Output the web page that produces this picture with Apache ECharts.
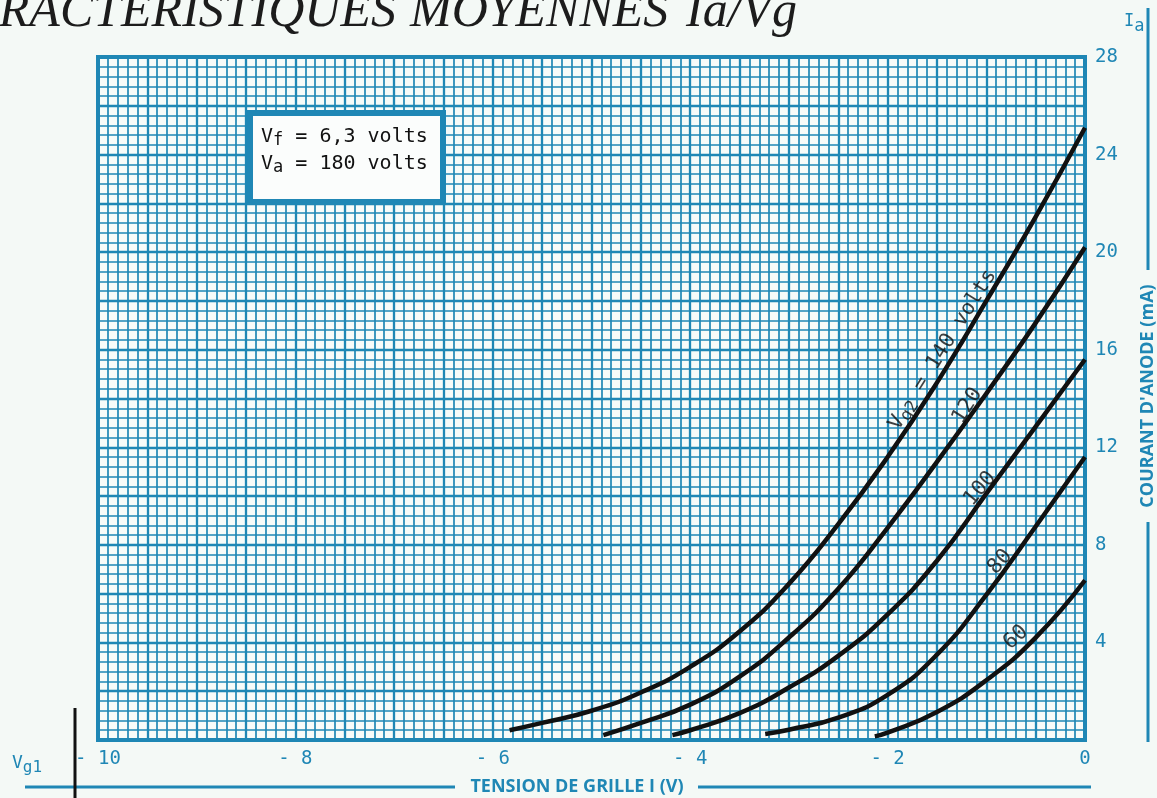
<!DOCTYPE html>
<html>
<head>
<meta charset="utf-8">
<script src="https://cdn.jsdelivr.net/npm/echarts@6/dist/echarts.min.js"></script>
<style>
html, body { margin: 0; padding: 0; background: #f4f9f6; }
#main { width: 1157px; height: 798px; }
</style>
</head>
<body>
<div id="main"></div>
<script>
// courbes Ia = f(Vg1) pour chaque tension d'ecran Vg2
var vg2List = ['140', '120', '100', '80', '60'];
var curve140 = [[-5.83, 0.4], [-5.5, 0.7], [-5.0, 1.2], [-4.5, 1.95], [-4.0, 3.0], [-3.5, 4.45], [-3.0, 6.4], [-2.5, 8.85], [-2.0, 11.6], [-1.5, 14.65], [-1.0, 18.0], [-0.5, 21.45], [0, 25.1]];
var curve120 = [[-4.88, 0.2], [-4.5, 0.7], [-4.0, 1.45], [-3.5, 2.6], [-3.0, 4.2], [-2.5, 6.2], [-2.0, 8.7], [-1.5, 11.4], [-1.0, 14.2], [-0.5, 17.1], [0, 20.2]];
var curve100 = [[-4.18, 0.2], [-4.0, 0.4], [-3.5, 1.1], [-3.0, 2.15], [-2.5, 3.45], [-2.0, 5.15], [-1.5, 7.35], [-1.0, 10.1], [-0.5, 12.85], [0, 15.6]];
var curve80 = [[-3.24, 0.25], [-3.0, 0.42], [-2.5, 0.92], [-2.0, 1.85], [-1.5, 3.5], [-1.0, 5.95], [-0.5, 8.75], [0, 11.6]];
var curve60 = [[-2.13, 0.15], [-2.0, 0.3], [-1.5, 1.15], [-1.0, 2.45], [-0.5, 4.2], [0, 6.55]];
var curves = [curve140, curve120, curve100, curve80, curve60];

// ancrage des etiquettes (Vg1, Ia) et inclinaison
var labelAnchors = [[-1.44, 16.0], [-1.19, 13.7], [-1.06, 10.3], [-0.86, 7.3], [-0.7, 4.2]];
var labelAngles = [58, 58, 50, 48, 42];

var xTicks = [-10, -8, -6, -4, -2, 0];
var yTicks = [4, 8, 12, 16, 20, 24, 28];

var blue = '#1f87b5';
var mono = '"DejaVu Sans Mono", monospace';
var titleFont = 'italic 50px "Liberation Serif", serif';

var myChart = echarts.init(document.getElementById('main'));

var series = [];
for (var i = 0; i < curves.length; i++) {
	series.push({
		name : vg2List[i],
		type : 'line',
		data : curves[i],
		smooth : 0.5,
		symbol : 'none',
		lineStyle : { color : '#111', width : 4.5 },
		z : 5
	});
}

var labelData = [];
for (var i = 0; i < labelAnchors.length; i++) {
	var txt = vg2List[i];
	if (i === 0) {
		txt = '{v|V}{s|g2}{v| = 140 volts}';
	} else {
		txt = '{v|' + txt + '}';
	}
	labelData.push({
		value : labelAnchors[i],
		label : { rotate : labelAngles[i], formatter : txt }
	});
}
series.push({
	type : 'scatter',
	data : labelData,
	symbolSize : 1,
	itemStyle : { color : 'transparent' },
	silent : true,
	z : 6,
	label : {
		show : true,
		position : 'inside',
		color : '#111',
		rich : {
			v : { fontFamily : mono, fontSize : 21, color : '#111' },
			s : { fontFamily : mono, fontSize : 17, color : '#111', padding : [ 9, 0, 0, 0 ] }
		}
	}
});

var option = {
	backgroundColor : '#f4f9f6',
	animation : false,
	grid : {
		left : 98,
		right : 72,
		top : 57,
		bottom : 58,
		show : true,
		backgroundColor : '#f7fbf9',
		borderColor : blue,
		borderWidth : 4
	},
	xAxis : {
		type : 'value',
		min : -10,
		max : 0,
		interval : 0.5,
		axisLine : { show : false },
		axisTick : { show : false },
		axisLabel : {
			margin : 10,
			color : blue,
			fontFamily : mono,
			fontSize : 19,
			formatter : function(v) {
				if (xTicks.indexOf(v) < 0) return '';
				return v < 0 ? '- ' + Math.abs(v) : '0';
			}
		},
		splitLine : { show : true, lineStyle : { color : blue, width : 2.3 } },
		minorTick : { show : false, splitNumber : 5 },
		minorSplitLine : { show : true, lineStyle : { color : blue, width : 1.7 } }
	},
	yAxis : {
		type : 'value',
		position : 'right',
		min : 0,
		max : 28,
		interval : 2,
		axisLine : { show : false },
		axisTick : { show : false },
		axisLabel : {
			margin : 10,
			color : blue,
			fontFamily : mono,
			fontSize : 19,
			formatter : function(v) {
				return yTicks.indexOf(v) < 0 ? '' : String(v);
			}
		},
		splitLine : { show : true, lineStyle : { color : blue, width : 2.3 } },
		minorTick : { show : false, splitNumber : 5 },
		minorSplitLine : { show : true, lineStyle : { color : blue, width : 1.7 } }
	},
	graphic : [
		// titre coupe en haut de la page
		{
			type : 'text',
			x : 396,
			y : 38,
			style : { text : 'CARACTERISTIQUES', font : titleFont, fill : '#1c1c1c', textAlign : 'right', textVerticalAlign : 'bottom' },
			z : 10
		},
		{
			type : 'text',
			x : 410,
			y : 38,
			style : { text : 'MOYENNES', font : titleFont, fill : '#1c1c1c', textAlign : 'left', textVerticalAlign : 'bottom' },
			z : 10
		},
		{
			type : 'text',
			x : 686,
			y : 38,
			style : { text : 'Ia/Vg', font : titleFont, fill : '#1c1c1c', textAlign : 'left', textVerticalAlign : 'bottom' },
			z : 10
		},
		{
			type : 'rect',
			shape : { x : 250, y : 113, width : 193, height : 89 },
			style : { fill : '#fbfdfc', stroke : blue, lineWidth : 6 },
			z : 10
		},
		{
			type : 'text',
			x : 261,
			y : 123,
			style : {
				text : '{v|V}{s|f}{v| = 6,3 volts}\n{v|V}{s|a}{v| = 180 volts}',
				rich : {
					v : { fontFamily : mono, fontSize : 20, fill : '#111', lineHeight : 27 },
					s : { fontFamily : mono, fontSize : 17, fill : '#111', padding : [ 9, 0, 0, 0 ], lineHeight : 27 }
				}
			},
			z : 11
		},
		{
			type : 'text',
			x : 1124,
			y : 8,
			style : {
				text : '{v|I}{s|a}',
				rich : {
					v : { fontFamily : mono, fontSize : 17, fill : blue },
					s : { fontFamily : mono, fontSize : 17, fill : blue, padding : [ 10, 0, 0, 0 ] }
				}
			}
		},
		{
			type : 'line',
			shape : { x1 : 1148, y1 : 8, x2 : 1148, y2 : 270 },
			style : { stroke : blue, lineWidth : 3 }
		},
		{
			type : 'text',
			x : 1148,
			y : 396,
			rotation : Math.PI / 2,
			style : {
				text : 'COURANT D\'ANODE (mA)',
				font : 'bold 18px "Open Sans", sans-serif',
				fill : blue,
				textAlign : 'center',
				textVerticalAlign : 'middle'
			}
		},
		{
			type : 'line',
			shape : { x1 : 1148, y1 : 522, x2 : 1148, y2 : 742 },
			style : { stroke : blue, lineWidth : 3 }
		},
		{
			type : 'line',
			shape : { x1 : 25, y1 : 787, x2 : 455, y2 : 787 },
			style : { stroke : blue, lineWidth : 3 }
		},
		{
			type : 'text',
			x : 577,
			y : 787,
			style : {
				text : 'TENSION DE GRILLE I (V)',
				font : 'bold 18px "Open Sans", sans-serif',
				fill : blue,
				textAlign : 'center',
				textVerticalAlign : 'middle'
			}
		},
		{
			type : 'line',
			shape : { x1 : 698, y1 : 787, x2 : 1091, y2 : 787 },
			style : { stroke : blue, lineWidth : 3 }
		},
		{
			type : 'text',
			x : 12,
			y : 750,
			style : {
				text : '{v|V}{s|g1}',
				rich : {
					v : { fontFamily : mono, fontSize : 18, fill : blue },
					s : { fontFamily : mono, fontSize : 16, fill : blue, padding : [ 10, 0, 0, 0 ] }
				}
			}
		},
		{
			type : 'line',
			shape : { x1 : 75, y1 : 708, x2 : 75, y2 : 798 },
			style : { stroke : '#111', lineWidth : 3 }
		}
	],
	series : series
};

myChart.setOption(option);
</script>
</body>
</html>
